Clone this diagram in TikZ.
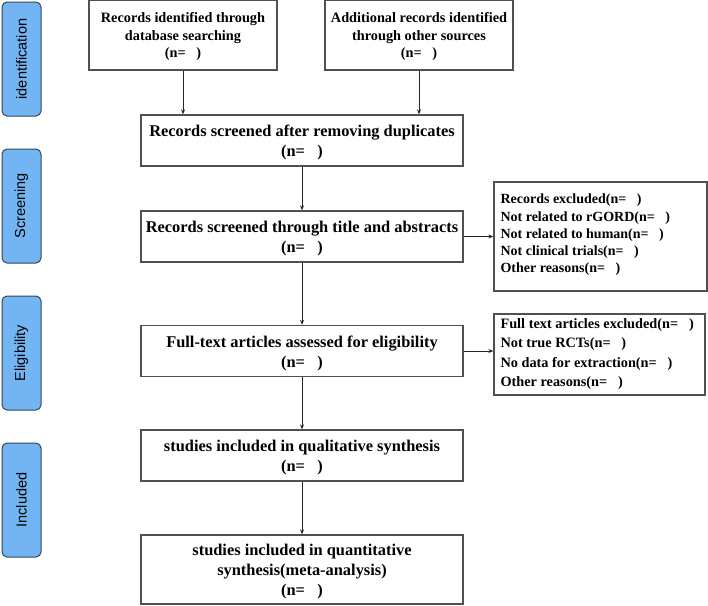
\documentclass[tikz,border=0pt]{standalone}
\usepackage{fontspec}
\setmainfont{Liberation Serif}
\setsansfont{Liberation Sans}
\usetikzlibrary{arrows.meta}
\definecolor{sidefill}{HTML}{72B5F2}
\definecolor{sideline}{HTML}{34465A}
\definecolor{boxline}{HTML}{505050}
\begin{document}
\begin{tikzpicture}[x=1pt,y=-1pt,
  sidebox/.style={draw=sideline,line width=1pt,fill=sidefill,rounded corners=5pt,inner sep=0pt},
  sidetext/.style={font=\sffamily\fontsize{14.5}{16}\selectfont,rotate=90},
  flowbox/.style={draw=boxline,line width=1.3pt,inner sep=0pt},
  smalltext/.style={font=\bfseries\fontsize{14.3}{17.5}\selectfont,align=center},
  bigtext/.style={font=\bfseries\fontsize{16.4}{20}\selectfont,align=center},
  listtext/.style={font=\bfseries\fontsize{14}{17.2}\selectfont,align=left},
  listtextb/.style={font=\bfseries\fontsize{14.3}{19.5}\selectfont,align=left},
  arr/.style={draw=black!85,line width=0.8pt,-{Stealth[length=5pt,width=4pt]}}]
\useasboundingbox (0,0) rectangle (708,605);
% side labels
\draw[sidebox] (2,2) rectangle (41,116);
\node[sidetext] (s1) at (21.5,59) {identification};
\draw[sidebox] (2,149) rectangle (41,263);
\node[sidetext] (s2) at (21.5,206) {Screening};
\draw[sidebox] (2,296) rectangle (41,410);
\node[sidetext] (s3) at (21.5,353) {Eligibility};
\draw[sidebox] (2,443) rectangle (41,557);
\node[sidetext] (s4) at (21.5,500) {Included};
% main boxes
\node[flowbox,minimum width=188pt,minimum height=70pt] (b1) at (183,35) {};
\node[smalltext] (t1) at (183,36.5) {Records identified through\\database searching\\(n=\ \ \ )};
\node[flowbox,minimum width=188pt,minimum height=70pt] (b2) at (419,35) {};
\node[smalltext] (t2) at (419,36.5) {Additional records identified\\through other sources\\(n=\ \ \ )};
\node[flowbox,minimum width=322pt,minimum height=51pt] (b3) at (302,140.5) {};
\node[bigtext] (t3) at (302,142.5) {Records screened after removing duplicates\\(n=\ \ \ )};
\node[flowbox,minimum width=322pt,minimum height=51pt] (b4) at (302,236.5) {};
\node[bigtext] (t4) at (302,238.5) {Records screened through title and abstracts\\(n=\ \ \ )};
\node[flowbox,minimum width=322pt,minimum height=51pt] (b5) at (302,351) {};
\node[bigtext] (t5) at (302,353) {Full-text articles assessed for eligibility\\(n=\ \ \ )};
\node[flowbox,minimum width=322pt,minimum height=51pt] (b6) at (302,455.5) {};
\node[bigtext] (t6) at (302,457.5) {studies included in qualitative synthesis\\(n=\ \ \ )};
\node[flowbox,minimum width=322pt,minimum height=69pt] (b7) at (302,569.5) {};
\node[bigtext] (t7) at (302,572) {studies included in quantitative\\synthesis(meta-analysis)\\(n=\ \ \ )};
% right boxes
\node[flowbox,minimum width=213pt,minimum height=109pt] (r1) at (600.5,236.5) {};
\node[listtext,anchor=west] (l1) at (497,235) {Records excluded(n=\ \ \ )\\Not related to rGORD(n=\ \ \ )\\Not related to human(n=\ \ \ )\\Not clinical trials(n=\ \ \ )\\Other reasons(n=\ \ \ )};
\node[flowbox,minimum width=211pt,minimum height=81pt] (r2) at (599.5,354.5) {};
\node[listtextb,anchor=west] (l2) at (497,354) {Full text articles excluded(n=\ \ \ )\\Not true RCTs(n=\ \ \ )\\No data for extraction(n=\ \ \ )\\Other reasons(n=\ \ \ )};
% arrows
\draw[arr] (b1.south) -- (b1.south |- b3.north);
\draw[arr] (b2.south) -- (b2.south |- b3.north);
\draw[arr] (b3) -- (b4);
\draw[arr] (b4) -- (b5);
\draw[arr] (b5) -- (b6);
\draw[arr] (b6) -- (b7);
\draw[arr] (b4.east) -- (b4.east -| r1.west);
\draw[arr] (b5.east) -- (b5.east -| r2.west);
\end{tikzpicture}
\end{document}
